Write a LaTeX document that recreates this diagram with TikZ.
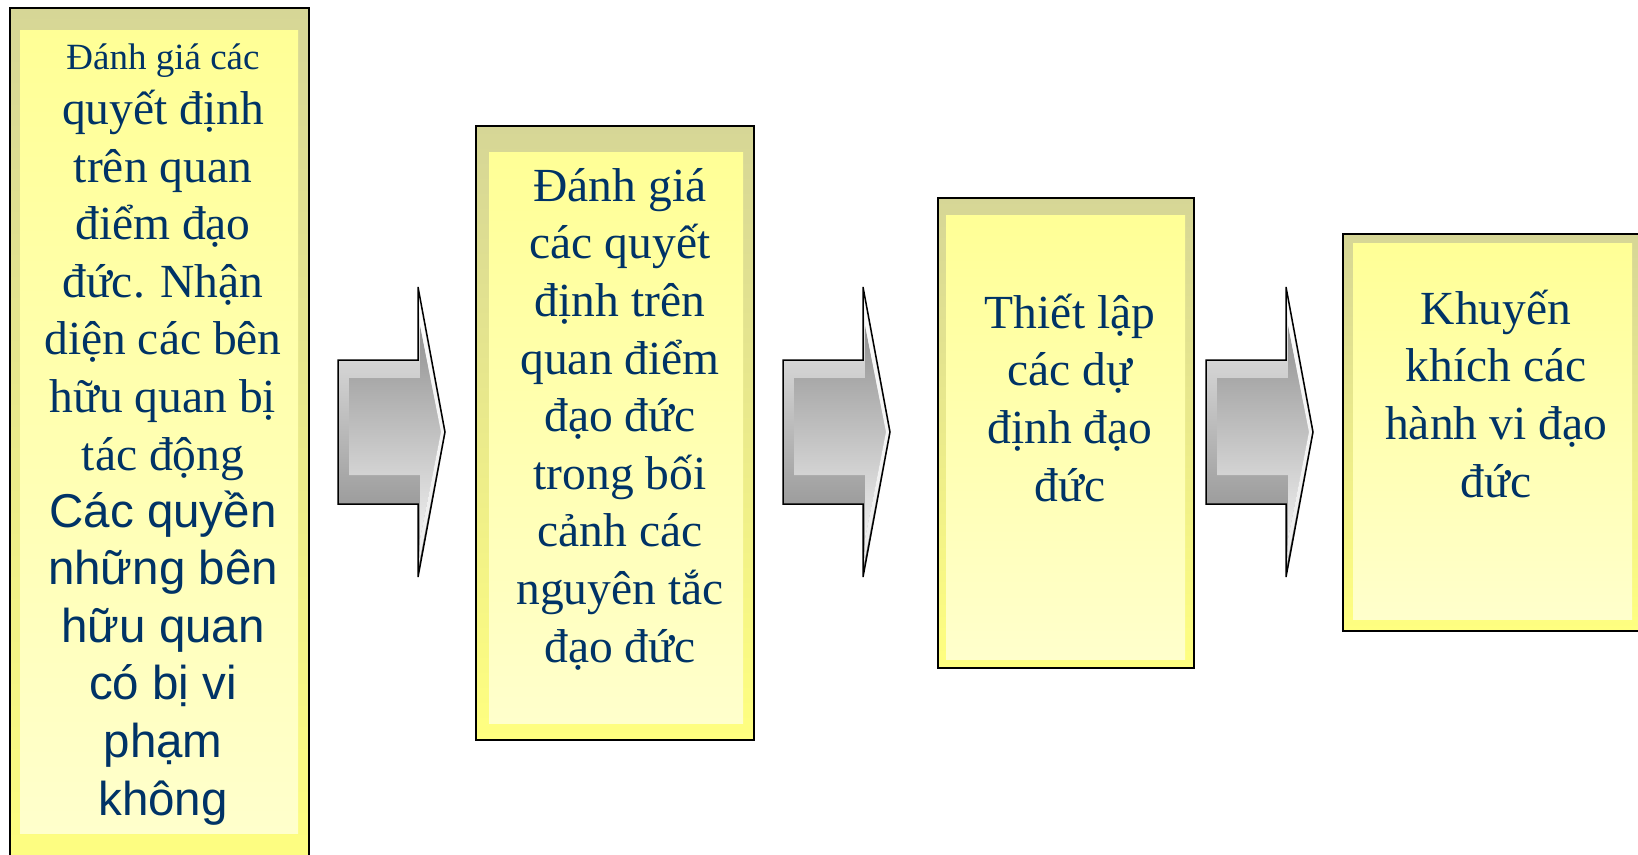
\documentclass[tikz,border=0pt]{standalone}
\usepackage{fontspec}
\setmainfont{Liberation Serif}
\newfontfamily\arialfont{Liberation Sans}
\definecolor{navy}{RGB}{0,51,102}
\definecolor{frametop}{RGB}{214,214,150}
\definecolor{framebot}{RGB}{255,255,128}
\definecolor{innertop}{RGB}{255,255,150}
\definecolor{innerbot}{RGB}{255,255,204}
\definecolor{arrtop}{RGB}{242,242,242}
\definecolor{arrbot}{RGB}{128,128,128}
\definecolor{arrintop}{RGB}{145,145,145}
\definecolor{arrinbot}{RGB}{240,240,240}
\tikzset{
  framebox/.style={draw=black, line width=1.5pt, top color=frametop, bottom color=framebot,
    inner sep=0pt, anchor=north west, rectangle},
  innerbox/.style={top color=innertop, bottom color=innerbot, inner sep=0pt,
    anchor=north west, rectangle},
  txt/.style={text=navy, align=center, inner sep=0pt, anchor=base,
    font=\fontsize{47.5}{57.6}\selectfont},
  blockarrow/.pic={
    \shade[top color=arrtop, bottom color=arrbot]
      (0,360)--(80,360)--(80,287)--(107,432)--(80,577)--(80,504)--(0,504)--cycle;
    \shade[top color=arrintop, bottom color=arrinbot]
      (11,378)--(82,378)--(82,325)--(103,432)--(82,539)--(82,475)--(11,475)--cycle;
    \fill[white, opacity=0.85]
      (81,300)--(106,432)--(81,564)--(82,539)--(103,432)--(82,325)--cycle;
    \draw[black, line width=1.5pt, line join=miter]
      (0,360)--(80,360)--(80,287)--(107,432)--(80,577)--(80,504)--(0,504)--cycle;
  }
}
\begin{document}
\begin{tikzpicture}[x=1pt, y=-1pt]
\useasboundingbox (0,0) rectangle (1638,854);
\clip (0,0) rectangle (1638,854);
% box 1
\node[framebox, minimum width=299pt, minimum height=880pt] (b1) at (9,7) {};
\node[innerbox, minimum width=278pt, minimum height=803pt] (b1i) at (20,30) {};
\node[txt, font=\fontsize{37}{44}\selectfont] (t1a) at (163,69) {Đánh giá các};
\node[txt] (t1b) at (163,470) {quyết định\\trên quan\\điểm đạo\\đức. Nhận\\diện các bên\\hữu quan bị\\tác động};
\node[txt, font=\arialfont\fontsize{47.5}{57.6}\selectfont] (t1c) at (163,815) {Các quyền\\những bên\\hữu quan\\có bị vi\\phạm\\không};
% box 2
\node[framebox, minimum width=278pt, minimum height=614pt] (b2) at (475,125) {};
\node[innerbox, minimum width=254pt, minimum height=571pt] (b2i) at (489,152) {};
\node[txt] (t2) at (620,662) {Đánh giá\\các quyết\\định trên\\quan điểm\\đạo đức\\trong bối\\cảnh các\\nguyên tắc\\đạo đức};
% box 3
\node[framebox, minimum width=256pt, minimum height=470pt] (b3) at (937,197) {};
\node[innerbox, minimum width=239pt, minimum height=444pt] (b3i) at (946,215) {};
\node[txt] (t3) at (1070,501) {Thiết lập\\các dự\\định đạo\\đức};
% box 4
\node[framebox, minimum width=303pt, minimum height=397pt] (b4) at (1342,233) {};
\node[innerbox, minimum width=279pt, minimum height=376pt] (b4i) at (1353,243) {};
\node[txt] (t4) at (1496,497) {Khuyến\\khích các\\hành vi đạo\\đức};
% arrows
\pic (a1) at (338,0) {blockarrow};
\pic (a2) at (783,0) {blockarrow};
\pic (a3) at (1206,0) {blockarrow};
\end{tikzpicture}
\end{document}
